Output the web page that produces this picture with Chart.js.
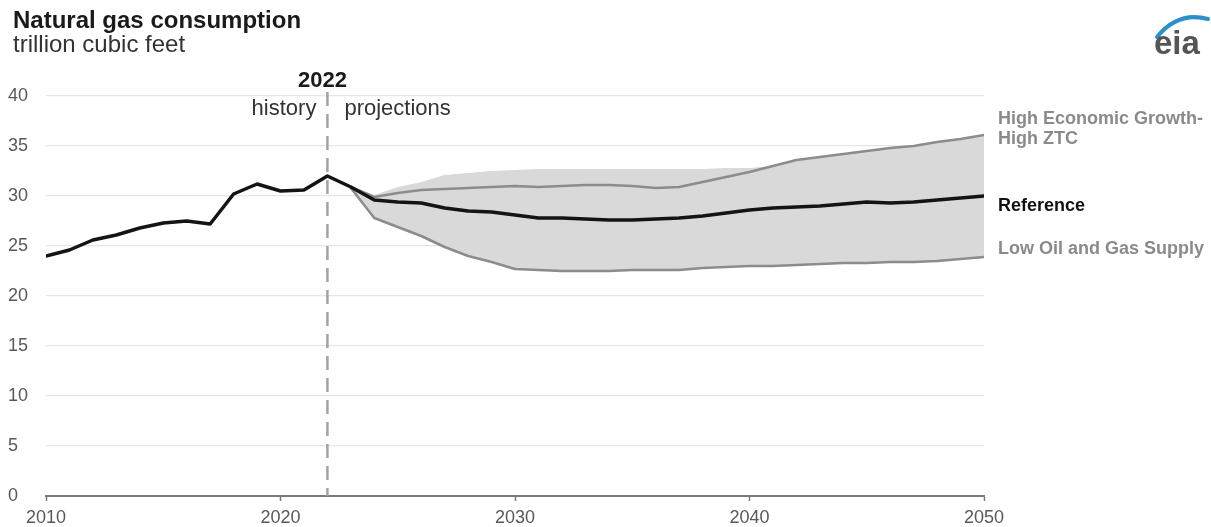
<!DOCTYPE html>
<html>
<head>
<meta charset="utf-8">
<script src="https://cdn.jsdelivr.net/npm/chart.js@4.4.1/dist/chart.umd.min.js"></script>
<style>
  html, body { margin: 0; padding: 0; background: #fff; }
  #wrap { width: 1211px; height: 527px; }
</style>
</head>
<body>
<div id="wrap"><canvas id="chart" width="1211" height="527"></canvas></div>
<script>
// history 2010-2022, projections 2023-2050 (trillion cubic feet)
const historyYears = [2010, 2011, 2012, 2013, 2014, 2015, 2016, 2017, 2018, 2019, 2020, 2021, 2022];
const historyValues = [24.0, 24.6, 25.6, 26.1, 26.8, 27.3, 27.5, 27.2, 30.2, 31.2, 30.5, 30.6, 32.0];

const projYears = [2023, 2024, 2025, 2026, 2027, 2028, 2029, 2030, 2031, 2032, 2033, 2034, 2035, 2036,
  2037, 2038, 2039, 2040, 2041, 2042, 2043, 2044, 2045, 2046, 2047, 2048, 2049, 2050];
const referenceProj = [30.9, 29.6, 29.4, 29.3, 28.8, 28.5, 28.4, 28.1, 27.8, 27.8, 27.7, 27.6, 27.6, 27.7,
  27.8, 28.0, 28.3, 28.6, 28.8, 28.9, 29.0, 29.2, 29.4, 29.3, 29.4, 29.6, 29.8, 30.0];
const highGrowthProj = [30.9, 29.9, 30.3, 30.6, 30.7, 30.8, 30.9, 31.0, 30.9, 31.0, 31.1, 31.1, 31.0, 30.8,
  30.9, 31.4, 31.9, 32.4, 33.0, 33.6, 33.9, 34.2, 34.5, 34.8, 35.0, 35.4, 35.7, 36.1];
const lowSupplyProj = [30.8, 27.8, 26.9, 26.0, 24.9, 24.0, 23.4, 22.7, 22.6, 22.5, 22.5, 22.5, 22.6, 22.6,
  22.6, 22.8, 22.9, 23.0, 23.0, 23.1, 23.2, 23.3, 23.3, 23.4, 23.4, 23.5, 23.7, 23.9];
// top edge of the shaded range of all side cases
const rangeTop = [31.0, 30.1, 30.9, 31.4, 32.1, 32.3, 32.5, 32.6, 32.7, 32.7, 32.7, 32.7, 32.7, 32.7,
  32.7, 32.7, 32.8, 32.8, 33.0, 33.6, 33.9, 34.2, 34.5, 34.8, 35.0, 35.4, 35.7, 36.1];

const xTicks = [2010, 2020, 2030, 2040, 2050];
const yTicks = [0, 5, 10, 15, 20, 25, 30, 35, 40];
const splitYear = 2022;

const FONT = "'Liberation Sans', Arial, sans-serif";

const pts = (xs, ys) => xs.map((x, i) => ({ x, y: ys[i] }));

const refData = pts(historyYears.concat(projYears), historyValues.concat(referenceProj));

const annotations = {
  id: 'annotations',
  beforeDatasetsDraw(chart) {
    const { ctx, chartArea, scales } = chart;
    const x = scales.x.getPixelForValue(splitYear);
    ctx.save();
    ctx.strokeStyle = '#a3a3a3';
    ctx.lineWidth = 2.5;
    ctx.setLineDash([14, 8]);
    ctx.beginPath();
    ctx.moveTo(x, chartArea.top - 4);
    ctx.lineTo(x, chartArea.bottom);
    ctx.stroke();
    ctx.restore();
  },
  afterDraw(chart) {
    const { ctx, chartArea, scales } = chart;
    const x = scales.x.getPixelForValue(splitYear);
    ctx.save();
    ctx.textBaseline = 'alphabetic';

    // title + unit
    ctx.fillStyle = '#1a1a1a';
    ctx.font = 'bold 24px ' + FONT;
    ctx.textAlign = 'left';
    ctx.fillText('Natural gas consumption', 13, 28);
    ctx.fillStyle = '#333';
    ctx.font = '24px ' + FONT;
    ctx.fillText('trillion cubic feet', 13, 52);

    // 2022 marker text
    ctx.fillStyle = '#1a1a1a';
    ctx.font = 'bold 22px ' + FONT;
    ctx.textAlign = 'center';
    ctx.fillText('2022', x - 5, 87);
    ctx.fillStyle = '#333';
    ctx.font = '22px ' + FONT;
    ctx.textAlign = 'right';
    ctx.fillText('history', x - 11, 115);
    ctx.textAlign = 'left';
    ctx.fillText('projections', x + 17, 115);

    // line labels
    const lx = chartArea.right + 14;
    ctx.font = 'bold 18px ' + FONT;
    ctx.fillStyle = '#8a8a8a';
    ctx.fillText('High Economic Growth-', lx, 124);
    ctx.fillText('High ZTC', lx, 144);
    ctx.fillText('Low Oil and Gas Supply', lx, 254);
    ctx.fillStyle = '#111';
    ctx.fillText('Reference', lx, 211);

    // eia logo
    ctx.strokeStyle = '#2b8fcc';
    ctx.lineWidth = 4;
    ctx.lineCap = 'round';
    ctx.beginPath();
    ctx.moveTo(1157, 37);
    ctx.quadraticCurveTo(1178, 11, 1208, 19);
    ctx.stroke();
    ctx.fillStyle = '#555';
    ctx.font = 'bold 33px ' + FONT;
    ctx.textAlign = 'left';
    ctx.fillText('eia', 1154, 54);
    ctx.restore();
  }
};

new Chart(document.getElementById('chart'), {
  type: 'line',
  data: {
    datasets: [
      {
        label: 'range',
        data: pts(projYears, rangeTop),
        borderWidth: 0,
        borderColor: 'rgba(0,0,0,0)',
        backgroundColor: '#d9d9d9',
        fill: 1,
        pointRadius: 0,
        order: 4
      },
      {
        label: 'Low Oil and Gas Supply',
        data: pts(projYears, lowSupplyProj),
        borderColor: '#8c8c8c',
        borderWidth: 2.5,
        fill: false,
        pointRadius: 0,
        order: 3
      },
      {
        label: 'High Economic Growth-High ZTC',
        data: pts(projYears, highGrowthProj),
        borderColor: '#8c8c8c',
        borderWidth: 2.5,
        fill: false,
        pointRadius: 0,
        order: 2
      },
      {
        label: 'Reference',
        data: refData,
        borderColor: '#141414',
        borderWidth: 3.5,
        fill: false,
        pointRadius: 0,
        order: 1
      }
    ]
  },
  options: {
    responsive: false,
    animation: false,
    layout: { padding: { left: 8, right: 227, top: 96, bottom: 0 } },
    elements: { line: { tension: 0, borderJoinStyle: 'round', borderCapStyle: 'round' } },
    plugins: {
      legend: { display: false },
      tooltip: { enabled: false },
      title: { display: false }
    },
    scales: {
      x: {
        type: 'linear',
        min: 2010,
        max: 2050,
        afterFit: (s) => { s.height = 31; },
        afterBuildTicks: (s) => { s.ticks = xTicks.map((v) => ({ value: v })); },
        ticks: {
          callback: (v) => String(v),
          color: '#595959',
          font: { family: FONT, size: 18 },
          padding: 6,
          maxRotation: 0
        },
        grid: { drawOnChartArea: false, tickLength: 5, color: '#7a7a7a', tickWidth: 1.5 },
        border: { display: true, color: '#7a7a7a', width: 2 }
      },
      y: {
        min: 0,
        max: 40,
        afterFit: (s) => { s.width = 38; },
        afterBuildTicks: (s) => { s.ticks = yTicks.map((v) => ({ value: v })); },
        ticks: {
          color: '#595959',
          font: { family: FONT, size: 18 },
          crossAlign: 'far'
        },
        grid: { color: '#e6e6e6', lineWidth: 1.2, drawTicks: false },
        border: { display: false }
      }
    }
  },
  plugins: [annotations]
});
</script>
</body>
</html>
